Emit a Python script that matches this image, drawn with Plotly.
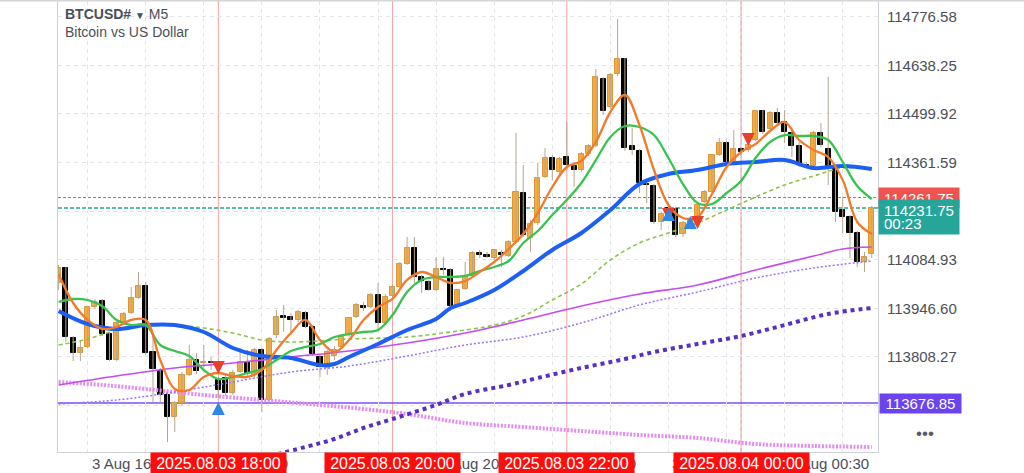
import pandas as pd
import plotly.graph_objects as go

COLORS = {
    "bull":      "#f7ab3f",
    "bull_edge": "#d9973a",
    "bear":      "#000000",
    "wick":      "#b4a68e",
    "grid":      "#e2e5eb",
    "frame":     "#cdd0d6",
    "text":      "#4b4f58",
    "ma_fast":   "#f27a2a",
    "ma_mid":    "#38c24e",
    "ma_slow":   "#1d5ff2",
    "ma_dash":   "#8cc447",
    "ma_mag":    "#c44cf2",
    "ma_violet": "#9d72f7",
    "ma_deep":   "#5a2fc0",
    "ma_pink":   "#e48cf1",
    "hline":     "#7b4ff2",
    "session":   "#f4a0a0",
    "ask":       "#ef5350",
    "bid":       "#26a69a",
    "sell":      "#e8402a",
    "buy":       "#2f86e8",
}

FONT = "Liberation Sans, Arial, sans-serif"

# ── M5 candles, 2025-08-03 16:10 → 2025-08-04 01:30 ──
candle_time = pd.date_range("2025-08-03 16:10", periods=113, freq="5min")

open_ = [
    114018.6, 114061.2, 113861.9, 113819.3, 113836.4, 113950.2, 113967.3, 113873.3, 113799.3, 113907.5,
    113933.1, 113975.8, 114010.0, 113822.1, 113768.0, 113699.7, 113637.1, 113677.0, 113756.6, 113799.3,
    113790.8, 113793.6, 113742.4, 113748.1, 113705.4, 113765.2, 113793.6, 113756.6, 113827.8, 113685.5,
    113870.5, 113924.6, 113921.7, 113913.2, 113933.1, 113893.3, 113807.9, 113776.6, 113810.7, 113836.4,
    113870.5, 113921.7, 113953.0, 113950.2, 113984.4, 113904.7, 113981.5, 114007.2, 114072.6, 114118.1,
    114035.6, 114021.4, 113998.6, 114058.4, 114055.5, 113953.0, 114001.5, 114038.5, 114103.9, 114098.2,
    114089.7, 114103.9, 114095.4, 114135.2, 114274.7, 114146.6, 114189.3, 114320.2, 114374.3, 114334.5,
    114377.2, 114351.6, 114340.2, 114385.7, 114408.5, 114599.2, 114519.5, 114613.5, 114656.2, 114408.5,
    114394.3, 114300.3, 114294.6, 114192.2, 114232.0, 114229.2, 114157.9, 114180.8, 114206.4, 114249.1,
    114277.5, 114382.9, 114417.0, 114363.0, 114399.9, 114397.1, 114425.6, 114508.1, 114456.9, 114502.5,
    114476.8, 114445.5, 114408.5, 114354.4, 114351.6, 114445.5, 114399.9, 114351.6, 114226.3, 114206.4,
    114160.8, 114078.3, 114101.1,
]
high = [
    114069.8, 114064.1, 113867.6, 113853.4, 113953.0, 113973.0, 113973.0, 113876.2, 113913.2, 113936.0,
    114007.2, 114049.8, 114021.4, 113870.5, 113776.6, 113705.4, 113682.6, 113765.2, 113842.0, 113819.3,
    113842.0, 113807.9, 113751.0, 113756.6, 113770.9, 113833.5, 113827.8, 113833.5, 113833.5, 113864.8,
    113941.7, 113955.9, 113933.1, 113941.7, 113938.8, 113898.9, 113813.6, 113827.8, 113839.2, 113856.3,
    113884.7, 113961.6, 113964.4, 113990.1, 114018.6, 113987.2, 114012.8, 114078.3, 114149.5, 114149.5,
    114041.3, 114027.1, 114092.5, 114092.5, 114061.2, 114001.5, 114078.3, 114109.6, 114112.5, 114106.8,
    114115.3, 114112.5, 114140.9, 114445.5, 114354.4, 114197.8, 114360.1, 114402.8, 114382.9, 114377.2,
    114476.8, 114363.0, 114391.4, 114414.2, 114627.7, 114604.9, 114616.3, 114770.0, 114659.0, 114459.7,
    114399.9, 114311.7, 114300.3, 114220.6, 114246.2, 114234.8, 114195.0, 114203.5, 114243.4, 114283.2,
    114385.7, 114431.3, 114422.7, 114454.0, 114405.6, 114417.0, 114511.0, 114511.0, 114508.1, 114516.7,
    114511.0, 114451.2, 114419.9, 114363.0, 114451.2, 114474.0, 114604.9, 114357.3, 114263.3, 114212.1,
    114166.5, 114106.8, 114237.7,
]
low = [
    113998.6, 113850.6, 113796.5, 113796.5, 113833.5, 113944.5, 113867.6, 113796.5, 113796.5, 113904.7,
    113930.3, 113973.0, 113813.6, 113679.8, 113679.8, 113565.9, 113594.4, 113668.4, 113753.8, 113759.5,
    113776.6, 113770.9, 113691.2, 113696.9, 113699.7, 113762.3, 113753.8, 113748.1, 113651.3, 113679.8,
    113861.9, 113879.0, 113870.5, 113907.5, 113890.4, 113810.7, 113751.0, 113756.6, 113799.3, 113833.5,
    113864.8, 113918.9, 113938.8, 113947.3, 113884.7, 113898.9, 113978.7, 114004.3, 114069.8, 114018.6,
    113990.1, 113995.8, 113995.8, 114041.3, 113938.8, 113950.2, 113998.6, 114035.6, 114089.7, 114089.7,
    114084.0, 114064.1, 114092.5, 114132.4, 114149.5, 114106.8, 114183.6, 114317.4, 114311.7, 114328.8,
    114340.2, 114291.8, 114334.5, 114380.0, 114405.6, 114496.8, 114513.8, 114607.8, 114394.3, 114382.9,
    114274.7, 114246.2, 114186.5, 114169.4, 114197.8, 114149.5, 114149.5, 114175.1, 114192.2, 114246.2,
    114274.7, 114380.0, 114357.3, 114360.1, 114382.9, 114391.4, 114422.7, 114442.7, 114451.2, 114468.3,
    114417.0, 114377.2, 114348.7, 114348.7, 114348.7, 114405.6, 114297.5, 114192.2, 114160.8, 114089.7,
    114064.1, 114049.8, 114089.7,
]
close = [
    114061.2, 113864.8, 113819.3, 113833.5, 113950.2, 113964.4, 113873.3, 113799.3, 113904.7, 113930.3,
    113975.8, 114010.0, 113819.3, 113773.7, 113699.7, 113637.1, 113677.0, 113756.6, 113799.3, 113768.0,
    113793.6, 113790.8, 113713.9, 113705.4, 113762.3, 113793.6, 113762.3, 113827.8, 113685.5, 113859.1,
    113921.7, 113918.9, 113913.2, 113936.0, 113893.3, 113816.5, 113779.4, 113822.1, 113827.8, 113864.8,
    113918.9, 113955.9, 113947.3, 113984.4, 113904.7, 113978.7, 114007.2, 114072.6, 114118.1, 114035.6,
    114024.2, 113998.6, 114058.4, 114055.5, 113953.0, 113998.6, 114038.5, 114103.9, 114098.2, 114092.5,
    114112.5, 114098.2, 114135.2, 114277.5, 114155.1, 114186.5, 114317.4, 114374.3, 114340.2, 114371.5,
    114354.4, 114340.2, 114385.7, 114408.5, 114604.9, 114508.1, 114610.6, 114656.2, 114402.8, 114397.1,
    114303.2, 114297.5, 114192.2, 114214.9, 114209.2, 114155.1, 114189.3, 114197.8, 114240.5, 114277.5,
    114382.9, 114417.0, 114363.0, 114399.9, 114391.4, 114411.4, 114508.1, 114448.4, 114502.5, 114474.0,
    114448.4, 114408.5, 114354.4, 114351.6, 114445.5, 114411.4, 114351.6, 114220.6, 114206.4, 114160.8,
    114078.3, 114092.5, 114231.75,
]

# ── indicator lines, read at candle indices ──
ma_fast_idx = list(range(0, 113, 2))
ma_fast = [
    114044.1, 113961.6, 113913.2, 113887.6, 113893.3, 113913.2, 113913.2, 113799.3, 113716.8, 113713.9,
    113751.0, 113762.3, 113753.8, 113751.0, 113770.9, 113827.8, 113876.2, 113913.2, 113856.3, 113822.1,
    113856.3, 113913.2, 113950.2, 113973.0, 114027.1, 114049.8, 114035.6, 114018.6, 114024.2, 114049.8,
    114078.3, 114115.3, 114158.0, 114217.7, 114291.8, 114348.7, 114365.8, 114419.9, 114505.3, 114553.7,
    114468.3, 114340.2, 114240.5, 114203.5, 114206.4, 114271.9, 114348.7, 114391.4, 114414.2, 114451.2,
    114476.8, 114425.6, 114397.1, 114377.2, 114311.7, 114192.2, 114158.0,
]
ma_mid_idx = list(range(0, 113, 2))
ma_mid = [
    113964.4, 113973.0, 113970.1, 113953.0, 113913.2, 113898.9, 113898.9, 113842.0, 113825.0, 113810.7,
    113770.9, 113745.2, 113751.0, 113762.3, 113773.7, 113799.3, 113825.0, 113836.4, 113844.9, 113864.8,
    113873.3, 113879.0, 113884.7, 113927.4, 113992.9, 114027.1, 114035.6, 114035.6, 114038.5, 114052.7,
    114064.1, 114081.1, 114132.4, 114166.5, 114212.1, 114254.8, 114303.2, 114368.6, 114434.1, 114465.4,
    114462.6, 114439.8, 114374.3, 114300.3, 114246.2, 114243.4, 114274.7, 114308.9, 114374.3, 114419.9,
    114439.8, 114437.0, 114437.0, 114425.6, 114363.0, 114294.6, 114257.6,
]
ma_slow_idx = [0, 4, 8, 12, 16, 20, 24, 28, 32, 36, 38, 40, 44, 48, 52, 54, 56, 60, 64, 68,
               72, 76, 80, 84, 88, 92, 96, 100, 104, 108, 112]
ma_slow = [
    113938.8, 113901.8, 113887.6, 113898.9, 113898.9, 113879.0, 113833.5, 113810.7, 113805.0, 113785.1,
    113787.9, 113807.9, 113844.9, 113884.7, 113916.0, 113947.3, 113961.6, 113998.6, 114052.7, 114112.5,
    114160.8, 114226.3, 114300.3, 114328.8, 114340.2, 114357.3, 114363.0, 114368.6, 114345.9, 114351.6,
    114343.0,
]
ma_dash_idx = [0, 4, 8, 12, 16, 20, 24, 28, 32, 40, 48, 54, 60, 64, 68, 72, 76, 80, 84, 88,
               92, 96, 100, 104, 108, 112]
ma_dash = [
    113842.0, 113859.1, 113884.7, 113901.8, 113898.9, 113890.4, 113876.2, 113856.3, 113850.6, 113859.1,
    113864.8, 113879.0, 113898.9, 113924.6, 113970.1, 114015.7, 114084.0, 114132.4, 114160.8, 114189.3,
    114226.3, 114263.3, 114297.5, 114323.1, 114345.9, 114343.0,
]
ma_mag_idx = [0, 8, 16, 24, 32, 40, 48, 56, 64, 72, 80, 88, 96, 104, 108, 112]
ma_mag = [
    113728.2, 113753.8, 113776.6, 113790.8, 113807.9, 113825.0, 113847.7, 113876.2, 113913.2, 113953.0,
    113987.2, 114012.8, 114055.5, 114095.4, 114115.3, 114121.0,
]
ma_violet_idx = [0, 8, 16, 24, 32, 40, 48, 56, 64, 72, 80, 88, 96, 104, 112]
ma_violet = [
    113674.1, 113685.5, 113708.3, 113736.7, 113765.2, 113782.2, 113810.7, 113842.0, 113864.8, 113904.7,
    113955.9, 113992.9, 114032.7, 114061.2, 114081.1,
]
ma_deep_idx = [28, 34, 38, 42, 46, 52, 56, 62, 66, 72, 78, 82, 88, 94, 100, 106, 112]
ma_deep = [
    113520.3, 113551.7, 113574.5, 113605.8, 113631.4, 113671.3, 113702.6, 113728.2, 113748.1, 113776.6,
    113802.2, 113822.1, 113844.9, 113867.6, 113898.9, 113930.3, 113947.3,
]
ma_pink_idx = [0, 6, 12, 20, 28, 36, 42, 48, 56, 64, 72, 80, 88, 96, 104, 112]
ma_pink = [
    113736.7, 113728.2, 113716.8, 113699.7, 113685.5, 113671.3, 113659.9, 113645.6, 113620.0, 113608.6,
    113597.2, 113585.8, 113577.3, 113560.2, 113554.5, 113551.7,
]

# signal arrows
sell_idx = [22, 84, 88, 95]
sell_price = [113759.5, 114195.0, 114172.2, 114408.5]
buy_idx = [22, 84, 87]
buy_price = [113679.8, 114232.0, 114209.2]

# levels
ask_price = 114261.75
bid_price = 114231.75
level_price = 113676.85
timer_text = "00:23"

session_times = ["2025-08-03 18:00", "2025-08-03 20:00", "2025-08-03 22:00", "2025-08-04 00:00"]
session_text = ["2025.08.03 18:00", "2025.08.03 20:00", "2025.08.03 22:00", "2025.08.04 00:00"]

xlabel_times = ["2025-08-03 16:30", "2025-08-03 17:50", "2025-08-03 19:10", "2025-08-03 20:30",
                "2025-08-03 21:50", "2025-08-03 23:10", "2025-08-04 00:30"]
xlabel_text = ["3 Aug 16:30", "3 Aug 17:50", "3 Aug 19:10", "3 Aug 20:30",
               "3 Aug 21:50", "3 Aug 23:10", "4 Aug 00:30"]
xgrid_times = pd.date_range("2025-08-03 16:30", "2025-08-04 01:30", freq="40min")

price_ticks = [114776.58, 114638.25, 114499.92, 114361.59, 114223.26,
               114084.93, 113946.60, 113808.27, 113669.94]
price_text = ["114776.58", "114638.25", "114499.92", "114361.59", "",
              "114084.93", "113946.60", "113808.27", ""]

X_RANGE = ["2025-08-03 16:09:35", "2025-08-04 01:34:18"]
Y_RANGE = [113537.4, 114821.3]


def at(idx):
    return [candle_time[i] for i in idx]


fig = go.Figure()

# wicks
wx, wy = [], []
for t, h, l in zip(candle_time, high, low):
    wx += [t, t, None]
    wy += [l, h, None]
fig.add_trace(go.Scatter(x=wx, y=wy, mode="lines",
                         line=dict(color=COLORS["wick"], width=1), hoverinfo="skip"))

# bodies
is_up = [c >= o for o, c in zip(open_, close)]
fig.add_trace(go.Bar(
    x=candle_time,
    y=[abs(c - o) for o, c in zip(open_, close)],
    base=[min(o, c) for o, c in zip(open_, close)],
    width=5 * 60 * 1000 * 0.7,
    marker=dict(
        color=[COLORS["bull"] if u else COLORS["bear"] for u in is_up],
        line=dict(color=[COLORS["bull_edge"] if u else COLORS["bear"] for u in is_up], width=1),
    ),
    hoverinfo="skip",
))

# indicator lines, back to front
lines = [
    (ma_pink_idx, ma_pink, COLORS["ma_pink"], 4, "2px,1.5px"),
    (ma_deep_idx, ma_deep, COLORS["ma_deep"], 4, "4px,4px"),
    (ma_violet_idx, ma_violet, COLORS["ma_violet"], 1.5, "2px,2px"),
    (ma_mag_idx, ma_mag, COLORS["ma_mag"], 1.6, "solid"),
    (ma_dash_idx, ma_dash, COLORS["ma_dash"], 1.6, "4px,3px"),
    (ma_slow_idx, ma_slow, COLORS["ma_slow"], 4, "solid"),
    (ma_mid_idx, ma_mid, COLORS["ma_mid"], 2.3, "solid"),
    (ma_fast_idx, ma_fast, COLORS["ma_fast"], 2.3, "solid"),
]
for idx, vals, col, w, dash in lines:
    fig.add_trace(go.Scatter(
        x=at(idx), y=vals, mode="lines", line_shape="spline",
        line=dict(color=col, width=w, dash=dash), hoverinfo="skip",
    ))

# arrows
fig.add_trace(go.Scatter(x=at(sell_idx), y=sell_price, mode="markers",
                         marker=dict(symbol="arrow-down", size=13, color=COLORS["sell"],
                                     line=dict(width=0)), hoverinfo="skip"))
fig.add_trace(go.Scatter(x=at(buy_idx), y=buy_price, mode="markers",
                         marker=dict(symbol="arrow-up", size=13, color=COLORS["buy"],
                                     line=dict(width=0)), hoverinfo="skip"))

shapes = []
# day separator
shapes.append(dict(type="line", xref="x", yref="paper", x0="2025-08-04 00:00", x1="2025-08-04 00:00",
                   y0=0, y1=1, line=dict(color="#c3c7ce", width=1, dash="4px,3px"), layer="between"))
for t in session_times:
    shapes.append(dict(type="line", xref="x", yref="paper", x0=t, x1=t, y0=0, y1=1,
                       line=dict(color=COLORS["session"], width=1), layer="between"))
shapes.append(dict(type="line", xref="paper", yref="y", x0=0, x1=1, y0=level_price, y1=level_price,
                   line=dict(color=COLORS["hline"], width=1.5), layer="between"))
shapes.append(dict(type="line", xref="paper", yref="y", x0=0, x1=1, y0=ask_price, y1=ask_price,
                   line=dict(color=COLORS["ask"], width=1, dash="3px,2px"), layer="between"))
shapes.append(dict(type="line", xref="paper", yref="y", x0=0, x1=1, y0=bid_price, y1=bid_price,
                   line=dict(color=COLORS["bid"], width=1.5, dash="4px,2px"), layer="between"))
# top frame of the screen
shapes.append(dict(type="line", xref="paper", yref="paper", x0=-0.08, x1=1.2, y0=1.001, y1=1.001,
                   line=dict(color="#d6d6d6", width=2)))

ann = []
ann.append(dict(xref="paper", yref="paper", x=0.006, y=0.972, xanchor="left", yanchor="middle",
                text="<b>BTCUSD#</b> <span style='font-size:10px'>▼</span> M5", showarrow=False,
                font=dict(size=14, color=COLORS["text"], family=FONT)))
ann.append(dict(xref="paper", yref="paper", x=0.006, y=0.932, xanchor="left", yanchor="middle",
                text="Bitcoin vs US Dollar", showarrow=False,
                font=dict(size=14, color=COLORS["text"], family=FONT)))

for t, s in zip(xlabel_times, xlabel_text):
    ann.append(dict(xref="x", yref="paper", x=t, y=-0.0244, xanchor="left", yanchor="middle",
                    xshift=2, text=s, showarrow=False,
                    font=dict(size=15, color=COLORS["text"], family=FONT)))
for t, s in zip(session_times, session_text):
    ann.append(dict(xref="x", yref="paper", x=t, y=-0.0244, xanchor="center", yanchor="middle",
                    text=s, showarrow=False, bgcolor="#ff0d0d", width=131, height=17, borderpad=2,
                    font=dict(size=16, color="white", family=FONT)))

ann.append(dict(xref="paper", yref="y", x=1.0, y=ask_price, xanchor="left", yanchor="middle",
                text=f"{ask_price:.2f}", showarrow=False, bgcolor=COLORS["ask"], width=76, height=16,
                borderpad=2, font=dict(size=15, color="white", family=FONT)))
ann.append(dict(xref="paper", yref="y", x=1.0, y=bid_price, xanchor="left", yanchor="top", yshift=9,
                text=f"{bid_price:.2f}", showarrow=False, bgcolor=COLORS["bid"], width=76, height=30,
                valign="top", borderpad=2, font=dict(size=15, color="white", family=FONT)))
ann.append(dict(xref="paper", yref="y", x=1.0, y=bid_price, xanchor="left", yanchor="middle",
                xshift=4, yshift=-15, text=timer_text, showarrow=False,
                font=dict(size=15, color="white", family=FONT)))
ann.append(dict(xref="paper", yref="y", x=1.0, y=level_price, xanchor="left", yanchor="middle",
                xshift=1, text=f"{level_price:.2f}", showarrow=False, bgcolor="#6c44ee", width=77,
                height=15, borderpad=2, font=dict(size=15, color="white", family=FONT)))
ann.append(dict(xref="paper", yref="paper", x=1.057, y=0.04, xanchor="center", yanchor="middle",
                text="•••", showarrow=False, font=dict(size=17, color="#555a63", family=FONT)))

fig.update_layout(
    width=1024, height=473,
    margin=dict(l=58, r=146, t=1, b=21),
    paper_bgcolor="white", plot_bgcolor="white",
    showlegend=False, bargap=0,
    font=dict(family=FONT, color=COLORS["text"]),
    shapes=shapes, annotations=ann,
    xaxis=dict(
        type="date", range=X_RANGE, tickvals=list(xgrid_times), showticklabels=False,
        showgrid=True, gridcolor=COLORS["grid"], griddash="4px,4px", gridwidth=1,
        showline=True, linecolor=COLORS["frame"], linewidth=1, mirror=True,
        zeroline=False, ticks="",
    ),
    yaxis=dict(
        side="right", range=Y_RANGE, tickvals=price_ticks, ticktext=price_text,
        tickfont=dict(size=15, color=COLORS["text"], family=FONT),
        showgrid=True, gridcolor=COLORS["grid"], griddash="4px,4px", gridwidth=1,
        showline=True, linecolor=COLORS["frame"], linewidth=1, mirror=True,
        zeroline=False, ticks="", ticklabelstandoff=5,
    ),
)

# the page body has a default 8px margin; drop it so the figure sits at the window origin
fig.write_html("out.html", config={"displayModeBar": False},
               post_script="document.body.style.margin='0px';")
